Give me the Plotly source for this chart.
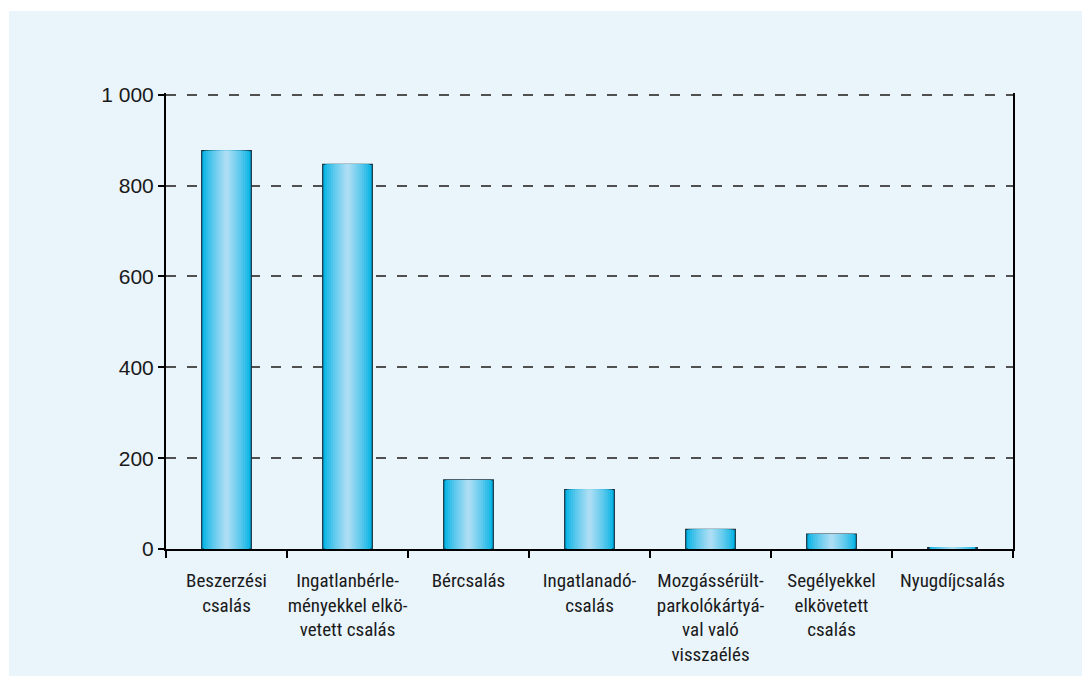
import plotly.graph_objects as go

# fraud types and number of cases
categories = [
    "Beszerzési<br>csalás",
    "Ingatlanbérle-<br>ményekkel elkö-<br>vetett csalás",
    "Bércsalás",
    "Ingatlanadó-<br>csalás",
    "Mozgássérült-<br>parkolókártyá-<br>val való<br>visszaélés",
    "Segélyekkel<br>elkövetett<br>csalás",
    "Nyugdíjcsalás",
]
values = [877, 847, 152, 131, 43, 33, 3]

y_ticks = [0, 200, 400, 600, 800, 1000]
y_tick_labels = ["0", "200", "400", "600", "800", "1 000"]


def mix(c1, c2, t):
    return "rgb({},{},{})".format(*[round(a + (b - a) * t) for a, b in zip(c1, c2)])


fig = go.Figure()

# fake a horizontal gradient: overlay narrower and lighter bars
edge = (0, 178, 228)
centre = (172, 221, 244)
layers = 12
bar_width = 0.41
for i in range(layers):
    t = i / (layers - 1)
    fig.add_trace(go.Bar(
        x=categories, y=values,
        width=bar_width * (1 - i / layers),
        marker=dict(color=mix(edge, centre, t ** 0.8),
                    line=dict(color="#17303d", width=1.2) if i == 0 else dict(width=0)),
        hoverinfo="skip" if i else None,
        showlegend=False,
    ))

# page is drawn with an 8px body margin, so shift everything up/left
fig.update_layout(
    width=1090,
    height=676,
    barmode="overlay",
    paper_bgcolor="white",
    plot_bgcolor="rgba(0,0,0,0)",
    margin=dict(l=158, r=85, t=85, b=135),
    font=dict(family="Liberation Sans, Arial, sans-serif", color="#1a1a1a"),
    shapes=[dict(type="rect", xref="paper", yref="paper", layer="below",
                 x0=-0.1854, x1=1.2, y0=-0.4, y1=1.18,
                 fillcolor="#e9f4fb", line=dict(width=0))],
)

fig.update_yaxes(
    range=[0, 1004],
    tickvals=y_ticks,
    ticktext=y_tick_labels,
    tickfont=dict(size=21),
    showline=True, linecolor="black", linewidth=2, mirror=True,
    ticks="outside", ticklen=6, tickwidth=2, tickcolor="black",
    showgrid=True, gridcolor="#505050", gridwidth=1.6, griddash="10px,11px",
    zeroline=False,
)

fig.update_xaxes(
    type="category",
    tickson="boundaries",
    showline=True, linecolor="black", linewidth=2,
    ticks="outside", ticklen=7, tickwidth=2, tickcolor="black",
    tickfont=dict(family="Liberation Sans Narrow, Roboto Condensed, DejaVu Sans Condensed, Arial Narrow, sans-serif",
                  size=19),
    ticklabelstandoff=13,
    tickangle=0,
    showgrid=False,
)

fig.write_html("out.html")
